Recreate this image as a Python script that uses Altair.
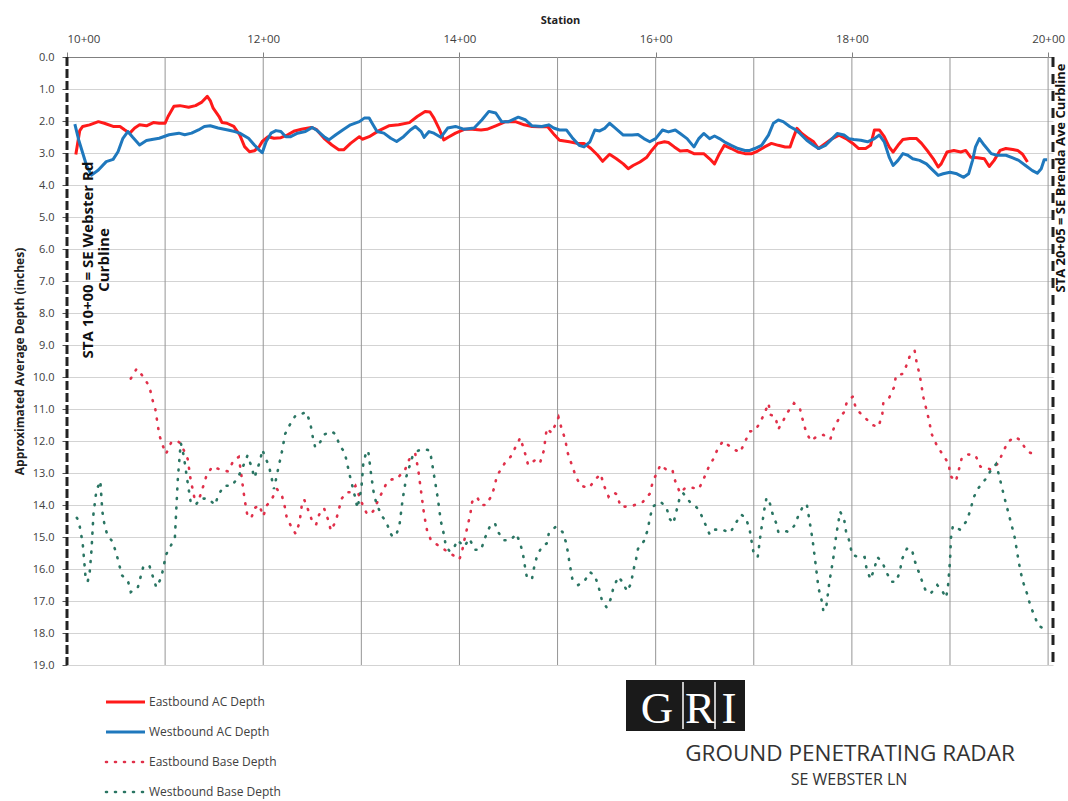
import altair as alt
import pandas as pd

# ---------------- data (station in feet, depth in inches) ----------------
eb_ac_sta = [1009, 1013, 1016, 1023, 1032, 1038, 1047, 1054, 1059, 1064, 1069, 1074, 1081, 1088, 1094, 1100,
             1103, 1109, 1115, 1124, 1131, 1137, 1143, 1146, 1149, 1155, 1158, 1163, 1170, 1176, 1181, 1186,
             1191, 1196, 1199, 1205, 1211, 1218, 1225, 1232, 1239, 1249, 1254, 1262, 1270, 1277, 1282, 1289,
             1298, 1301, 1308, 1318, 1328, 1338, 1349, 1357, 1365, 1370, 1374, 1379, 1384, 1389, 1396, 1405,
             1413, 1422, 1428, 1437, 1447, 1457, 1466, 1474, 1481, 1490, 1497, 1502, 1512, 1521, 1527, 1534,
             1541, 1546, 1553, 1560, 1567, 1572, 1577, 1584, 1591, 1596, 1602, 1609, 1613, 1619, 1625, 1632,
             1639, 1649, 1655, 1660, 1665, 1670, 1677, 1684, 1691, 1698, 1704, 1711, 1718, 1725, 1732, 1737,
             1740, 1744, 1749, 1756, 1761, 1766, 1773, 1780, 1787, 1794, 1801, 1807, 1814, 1819, 1823, 1828,
             1833, 1838, 1842, 1847, 1852, 1859, 1866, 1871, 1878, 1883, 1888, 1891, 1897, 1904, 1911, 1916,
             1921, 1928, 1935, 1940, 1945, 1951, 1957, 1964, 1969, 1974, 1979]
eb_ac_depth = [3.05, 2.3, 2.17, 2.12, 2.02, 2.07, 2.17, 2.17, 2.28, 2.38, 2.22, 2.12, 2.15, 2.05, 2.07, 2.07,
               1.86, 1.54, 1.52, 1.57, 1.52, 1.42, 1.23, 1.36, 1.6, 1.86, 2.05, 2.07, 2.17, 2.43, 2.8, 2.96,
               2.93, 2.8, 2.64, 2.49, 2.54, 2.52, 2.43, 2.31, 2.26, 2.2, 2.26, 2.54, 2.75, 2.9, 2.9, 2.7,
               2.49, 2.57, 2.49, 2.3, 2.15, 2.12, 2.05, 1.86, 1.7, 1.72, 1.91, 2.22, 2.59, 2.5, 2.38, 2.26,
               2.26, 2.28, 2.26, 2.15, 2.02, 2.02, 2.12, 2.17, 2.18, 2.18, 2.44, 2.6, 2.65, 2.7, 2.7, 2.86,
               3.07, 3.26, 3.04, 3.18, 3.34, 3.49, 3.39, 3.28, 3.13, 2.92, 2.7, 2.65, 2.67, 2.81, 2.94, 2.92,
               3.02, 3.02, 3.18, 3.34, 3.02, 2.76, 2.86, 2.97, 3.02, 3.02, 2.94, 2.81, 2.7, 2.76, 2.81, 2.81,
               2.55, 2.23, 2.39, 2.55, 2.65, 2.86, 2.7, 2.55, 2.44, 2.55, 2.7, 2.86, 2.86, 2.76, 2.28, 2.28,
               2.49, 2.81, 2.97, 2.76, 2.58, 2.55, 2.55, 2.7, 2.97, 3.18, 3.44, 3.34, 2.97, 2.92, 2.97, 2.92,
               3.13, 3.15, 3.18, 3.42, 3.23, 2.92, 2.86, 2.89, 2.92, 3.04, 3.28]

wb_ac_sta = [1008, 1012, 1016, 1020, 1025, 1032, 1040, 1047, 1052, 1057, 1062, 1067, 1074, 1081, 1088, 1094,
             1104, 1114, 1120, 1127, 1134, 1140, 1146, 1154, 1164, 1171, 1176, 1185, 1191, 1196, 1199, 1203,
             1208, 1213, 1218, 1223, 1228, 1235, 1243, 1250, 1255, 1262, 1267, 1274, 1281, 1289, 1298, 1303,
             1308, 1311, 1316, 1323, 1330, 1336, 1343, 1350, 1355, 1361, 1364, 1369, 1374, 1381, 1388, 1396,
             1405, 1415, 1423, 1430, 1437, 1443, 1450, 1460, 1467, 1474, 1484, 1491, 1496, 1502, 1509, 1515,
             1522, 1527, 1533, 1538, 1543, 1548, 1553, 1558, 1567, 1576, 1582, 1588, 1594, 1600, 1607, 1613,
             1620, 1625, 1632, 1639, 1644, 1649, 1655, 1660, 1665, 1670, 1677, 1684, 1691, 1696, 1701, 1708,
             1715, 1720, 1725, 1730, 1737, 1742, 1747, 1754, 1761, 1766, 1773, 1780, 1785, 1792, 1797, 1802,
             1809, 1816, 1823, 1828, 1833, 1838, 1842, 1847, 1852, 1857, 1862, 1869, 1876, 1883, 1888, 1893,
             1900, 1907, 1914, 1919, 1923, 1926, 1930, 1935, 1942, 1948, 1957, 1964, 1970, 1977, 1984, 1989,
             1993, 1996, 1999]
wb_ac_depth = [2.1, 2.6, 3.0, 3.4, 3.69, 3.53, 3.27, 3.2, 2.96, 2.54, 2.33, 2.51, 2.75, 2.61, 2.57, 2.54,
               2.43, 2.38, 2.43, 2.38, 2.28, 2.17, 2.15, 2.22, 2.28, 2.33, 2.38, 2.54, 2.75, 2.91, 2.99, 2.64,
               2.38, 2.3, 2.33, 2.49, 2.49, 2.38, 2.33, 2.2, 2.3, 2.49, 2.59, 2.43, 2.28, 2.12, 2.02, 1.91,
               1.91, 2.07, 2.33, 2.38, 2.54, 2.64, 2.49, 2.28, 2.17, 2.33, 2.51, 2.33, 2.38, 2.51, 2.22, 2.17,
               2.26, 2.22, 1.96, 1.7, 1.75, 2.02, 2.02, 1.88, 1.96, 2.15, 2.17, 2.12, 2.22, 2.28, 2.28, 2.52,
               2.76, 2.81, 2.65, 2.28, 2.31, 2.23, 2.07, 2.2, 2.44, 2.44, 2.42, 2.55, 2.65, 2.55, 2.28, 2.34,
               2.28, 2.39, 2.55, 2.81, 2.55, 2.39, 2.55, 2.47, 2.55, 2.65, 2.76, 2.86, 2.92, 2.92, 2.86, 2.76,
               2.44, 2.07, 1.97, 2.02, 2.18, 2.26, 2.39, 2.6, 2.76, 2.86, 2.76, 2.55, 2.39, 2.44, 2.55, 2.58,
               2.6, 2.65, 2.55, 2.44, 2.65, 3.13, 3.39, 3.23, 3.02, 3.07, 3.18, 3.23, 3.34, 3.55, 3.7, 3.65,
               3.6, 3.65, 3.76, 3.65, 3.23, 2.81, 2.55, 2.76, 3.02, 3.07, 3.07, 3.15, 3.23, 3.39, 3.55, 3.63,
               3.49, 3.21, 3.21]

eb_base_sta = [1065, 1071, 1078, 1084, 1087, 1090, 1092, 1094, 1097, 1101, 1106, 1112, 1116, 1123, 1126, 1130,
               1135, 1138, 1142, 1148, 1157, 1164, 1170, 1175, 1177, 1180, 1182, 1184, 1188, 1191, 1196, 1200,
               1204, 1209, 1214, 1219, 1222, 1224, 1229, 1233, 1237, 1240, 1242, 1247, 1251, 1254, 1257, 1262,
               1266, 1269, 1274, 1277, 1280, 1285, 1289, 1294, 1300, 1306, 1312, 1318, 1326, 1331, 1336, 1340,
               1344, 1347, 1350, 1355, 1358, 1361, 1364, 1367, 1371, 1380, 1390, 1400, 1403, 1405, 1408, 1411,
               1413, 1418, 1422, 1427, 1433, 1436, 1438, 1441, 1446, 1452, 1457, 1462, 1467, 1470, 1477, 1482,
               1486, 1489, 1494, 1501, 1504, 1508, 1510, 1514, 1518, 1523, 1532, 1538, 1544, 1547, 1552, 1557,
               1561, 1564, 1570, 1577, 1587, 1594, 1597, 1605, 1611, 1617, 1620, 1625, 1630, 1636, 1644, 1649,
               1654, 1659, 1664, 1669, 1678, 1686, 1691, 1696, 1701, 1706, 1711, 1715, 1717, 1722, 1725, 1729,
               1735, 1741, 1747, 1750, 1753, 1758, 1765, 1771, 1778, 1782, 1788, 1792, 1795, 1801, 1804, 1810,
               1816, 1821, 1827, 1831, 1832, 1838, 1843, 1845, 1852, 1856, 1860, 1864, 1866, 1869, 1871, 1873,
               1876, 1879, 1881, 1886, 1892, 1899, 1900, 1906, 1909, 1912, 1918, 1926, 1931, 1938, 1942, 1949,
               1954, 1959, 1966, 1972, 1978, 1988]
eb_base_depth = [10.05, 9.74, 10.0, 10.3, 10.7, 11.0, 11.4, 11.8, 12.1, 12.4, 12.06, 11.99, 12.08, 12.56, 13.2, 13.8,
                 13.78, 13.5, 13.1, 12.8, 12.9, 12.95, 12.6, 12.5, 12.9, 13.6, 14.0, 14.35, 14.4, 14.1, 14.0, 14.35,
                 14.0, 13.8, 13.5, 13.7, 14.06, 14.4, 14.7, 14.9, 14.55, 13.85, 13.85, 14.25, 14.6, 14.6, 14.3, 14.1,
                 14.45, 14.8, 14.5, 14.15, 13.8, 13.6, 13.6, 13.4, 13.9, 14.3, 14.2, 13.8, 13.3, 13.2, 13.2, 13.05,
                 12.95, 12.7, 12.5, 12.4, 12.9, 13.6, 14.3, 14.8, 15.1, 15.3, 15.5, 15.7, 15.4, 15.1, 14.7, 14.3,
                 13.9, 13.75, 14.0, 14.0, 13.7, 13.4, 13.1, 12.95, 12.7, 12.5, 12.2, 11.9, 12.4, 12.75, 12.6, 12.7,
                 12.3, 11.6, 11.75, 11.26, 11.6, 11.97, 12.34, 12.7, 13.05, 13.39, 13.47, 13.22, 13.03, 13.37, 13.74, 13.6,
                 13.68, 14.05, 14.05, 14.02, 13.9, 13.65, 13.28, 12.74, 12.9, 12.9, 13.26, 13.63, 13.47, 13.45, 13.5, 13.18,
                 12.82, 12.55, 12.19, 12.0, 12.23, 12.36, 12.03, 11.7, 11.68, 11.45, 11.13, 10.82, 11.18, 11.24, 11.63, 11.42,
                 11.08, 10.82, 10.98, 11.35, 11.68, 12.0, 11.84, 11.81, 11.95, 11.56, 11.24, 11.1, 10.77, 10.61, 10.98, 11.18,
                 11.35, 11.5, 11.56, 11.18, 10.82, 10.65, 10.32, 9.95, 9.9, 9.61, 9.26, 9.18, 9.55, 9.92, 10.28, 10.65,
                 11.02, 11.4, 11.76, 12.1, 12.4, 12.72, 13.08, 13.26, 12.9, 12.53, 12.42, 12.45, 12.8, 12.85, 12.9, 12.7,
                 12.35, 12.03, 11.87, 11.98, 12.3, 12.47]

wb_base_sta = [1010, 1012, 1016, 1019, 1021, 1023, 1025, 1027, 1030, 1034, 1036, 1038, 1041, 1046, 1050, 1056,
               1062, 1065, 1072, 1078, 1084, 1091, 1096, 1101, 1106, 1110, 1113, 1115, 1116, 1119, 1122, 1126,
               1131, 1136, 1144, 1151, 1154, 1160, 1168, 1174, 1178, 1184, 1188, 1191, 1197, 1199, 1202, 1206,
               1211, 1215, 1220, 1222, 1227, 1233, 1239, 1244, 1248, 1250, 1253, 1257, 1262, 1266, 1270, 1274,
               1278, 1283, 1288, 1294, 1296, 1300, 1302, 1305, 1307, 1310, 1313, 1316, 1321, 1325, 1330, 1332,
               1336, 1339, 1342, 1346, 1349, 1352, 1358, 1364, 1370, 1374, 1378, 1381, 1384, 1386, 1390, 1395,
               1398, 1405, 1410, 1416, 1422, 1426, 1431, 1436, 1440, 1445, 1452, 1458, 1462, 1465, 1467, 1469,
               1474, 1476, 1479, 1484, 1489, 1491, 1498, 1505, 1509, 1511, 1513, 1515, 1521, 1527, 1533, 1538,
               1542, 1545, 1550, 1554, 1557, 1562, 1566, 1571, 1575, 1577, 1580, 1582, 1588, 1592, 1594, 1597,
               1605, 1611, 1614, 1618, 1621, 1624, 1628, 1636, 1642, 1646, 1651, 1655, 1660, 1668, 1676, 1681,
               1687, 1692, 1696, 1698, 1700, 1704, 1707, 1711, 1713, 1716, 1719, 1723, 1725, 1730, 1735, 1741,
               1745, 1750, 1754, 1756, 1760, 1763, 1766, 1769, 1771, 1774, 1777, 1781, 1784, 1788, 1792, 1794,
               1798, 1800, 1807, 1813, 1815, 1819, 1823, 1826, 1831, 1835, 1840, 1845, 1849, 1851, 1856, 1861,
               1864, 1868, 1872, 1876, 1881, 1887, 1892, 1896, 1898, 1900, 1901, 1903, 1910, 1917, 1921, 1924,
               1929, 1936, 1942, 1947, 1951, 1954, 1957, 1960, 1963, 1966, 1968, 1970, 1972, 1975, 1979, 1982,
               1986, 1990, 1996]
wb_base_depth = [14.4, 14.5, 15.2, 16.28, 16.4, 16.15, 15.4, 14.27, 13.54, 13.25, 14.2, 14.58, 14.93, 15.13, 15.48, 16.2,
                 16.36, 16.72, 16.6, 15.9, 15.9, 16.57, 16.28, 15.55, 15.26, 15.0, 13.16, 12.4, 12.06, 12.46, 13.1, 13.9,
                 14.0, 13.8, 13.8, 14.0, 13.7, 13.4, 13.4, 13.15, 12.9, 12.45, 12.8, 13.15, 12.6, 12.27, 12.5, 12.8,
                 13.5, 12.9, 12.2, 11.8, 11.5, 11.2, 11.15, 11.1, 11.44, 11.8, 12.2, 12.1, 11.8, 11.75, 11.7, 11.8,
                 12.15, 12.35, 13.05, 13.8, 14.1, 13.5, 12.7, 12.35, 12.3, 13.05, 13.7, 14.0, 14.35, 14.5, 14.9, 15.0,
                 14.9, 14.6, 13.85, 13.1, 12.8, 12.5, 12.3, 12.25, 12.3, 13.05, 13.8, 14.5, 14.9, 15.25, 15.45, 15.3,
                 15.1, 15.3, 15.05, 15.4, 15.4, 15.03, 14.67, 14.56, 14.87, 15.1, 15.1, 14.9, 15.2, 15.58, 15.97, 16.3,
                 16.3, 15.97, 15.6, 15.3, 15.2, 14.9, 14.68, 14.84, 15.2, 15.58, 15.95, 16.3, 16.5, 16.4, 16.1, 16.2,
                 16.58, 16.95, 17.2, 16.95, 16.58, 16.24, 16.4, 16.7, 16.44, 16.08, 15.7, 15.37, 15.13, 14.77, 14.42, 14.05,
                 13.9, 14.07, 14.42, 14.58, 14.21, 13.84, 13.63, 13.95, 14.08, 14.28, 14.63, 14.92, 14.77, 14.77, 14.87, 14.6,
                 14.3, 14.4, 14.8, 15.18, 15.53, 15.63, 14.9, 14.1, 13.77, 13.9, 14.26, 14.58, 14.84, 14.79, 14.84, 14.66,
                 14.37, 14.05, 13.97, 14.34, 15.1, 15.84, 16.6, 16.96, 17.32, 17.16, 16.42, 15.68, 14.95, 14.21, 14.42, 14.82,
                 15.18, 15.55, 15.63, 15.63, 16.0, 16.32, 15.98, 15.63, 15.79, 16.08, 16.4, 16.4, 16.08, 15.7, 15.37, 15.37,
                 15.74, 16.08, 16.42, 16.74, 16.74, 16.5, 16.68, 16.9, 16.53, 15.76, 15.02, 14.65, 14.77, 14.5, 14.14, 13.77,
                 13.47, 13.2, 12.9, 12.72, 13.2, 13.58, 13.95, 14.3, 14.65, 15.02, 15.39, 15.76, 16.1, 16.45, 16.81, 17.16,
                 17.45, 17.77, 17.87]

grid_stations = [1100, 1200, 1300, 1400, 1500, 1600, 1700, 1800, 1900, 2000]
label_stations = [1000, 1200, 1400, 1600, 1800, 2000]
depth_ticks = list(range(0, 20))
boundary_left = [1000]
boundary_right = [2005]

legend_labels = ["Eastbound AC Depth", "Westbound AC Depth", "Eastbound Base Depth", "Westbound Base Depth"]

RED = "#ff1a1a"
BLUE = "#1f78bd"
RED_DOT = "#e0304a"
GREEN_DOT = "#2a7563"
FONT = "Open Sans"

# ---------------- shared encodings ----------------
x_scale = alt.Scale(domain=[1000, 2005], nice=False, zero=False)
y_scale = alt.Scale(domain=[0, 19], reverse=True, nice=False, zero=False)

x_enc = alt.X(
    "station:Q", scale=x_scale,
    axis=alt.Axis(orient="top", values=label_stations,
                  labelExpr="format(floor(datum.value/100),'d') + '+00'",
                  title="Station", titleFontWeight="bold", titleFontSize=11, titleFont=FONT,
                  titleColor="#222", titlePadding=8,
                  labelFont=FONT, labelFontSize=11.5, labelColor="#404040", labelPadding=8,
                  grid=False, domainColor="#808080", tickColor="#808080", tickSize=5),
)
y_enc = alt.Y(
    "depth:Q", scale=y_scale,
    axis=alt.Axis(values=depth_ticks, format=".1f", grid=True, gridColor="#d3d3d3",
                  title="Approximated Average Depth (inches)", titleFontWeight="bold",
                  titleFontSize=12, titleFont=FONT, titleColor="#222", titlePadding=6,
                  labelFont=FONT, labelFontSize=11, labelColor="#404040", labelPadding=8,
                  domain=False, tickColor="#555", tickSize=5),
)


def df(sta, dep):
    return pd.DataFrame({"station": sta, "depth": dep})


vgrid = alt.Chart(pd.DataFrame({"station": grid_stations})).mark_rule(
    color="#959595", strokeWidth=1).encode(x=x_enc)

eb_base = alt.Chart(df(eb_base_sta, eb_base_depth)).mark_line(
    color=RED_DOT, strokeWidth=2.6, strokeDash=[1, 8.5], strokeCap="round").encode(x=x_enc, y=y_enc)
wb_base = alt.Chart(df(wb_base_sta, wb_base_depth)).mark_line(
    color=GREEN_DOT, strokeWidth=2.6, strokeDash=[1, 8.5], strokeCap="round").encode(x=x_enc, y=y_enc)
eb_ac = alt.Chart(df(eb_ac_sta, eb_ac_depth)).mark_line(
    color=RED, strokeWidth=3, strokeJoin="round").encode(x=x_enc, y=y_enc)
wb_ac = alt.Chart(df(wb_ac_sta, wb_ac_depth)).mark_line(
    color=BLUE, strokeWidth=3, strokeJoin="round").encode(x=x_enc, y=y_enc)

left_bound = alt.Chart(pd.DataFrame({"station": boundary_left})).mark_rule(
    color="#222", strokeWidth=3, strokeDash=[9, 3]).encode(x=x_enc)
right_bound = alt.Chart(pd.DataFrame({"station": boundary_right})).mark_rule(
    color="#222", strokeWidth=3, strokeDash=[10, 7]).encode(x=x_enc)

# annotations
left_note = alt.Chart(pd.DataFrame({"t": [0]})).mark_text(
    text=["STA 10+00 = SE Webster Rd", "Curbline"], angle=270, font=FONT, fontWeight="bold",
    fontSize=15, lineHeight=16, align="center", baseline="middle", color="#111"
).encode(x=alt.value(21), y=alt.value(203))
right_note = alt.Chart(pd.DataFrame({"t": [0]})).mark_text(
    text="STA 20+05 = SE Brenda Ave Curbline", angle=270, font=FONT, fontWeight="bold",
    fontSize=13, align="center", baseline="middle", color="#111"
).encode(x=alt.value(994), y=alt.value(121))

# legend (manual)
leg_layers = []
leg_y = [645, 675, 705, 735]
leg_styles = [
    dict(color=RED, strokeWidth=3),
    dict(color=BLUE, strokeWidth=3),
    dict(color=RED_DOT, strokeWidth=2.6, strokeDash=[1, 8], strokeCap="round"),
    dict(color=GREEN_DOT, strokeWidth=2.6, strokeDash=[1, 8], strokeCap="round"),
]
for lab, yy, st in zip(legend_labels, leg_y, leg_styles):
    leg_layers.append(alt.Chart(pd.DataFrame({"t": [0]})).mark_rule(**st).encode(
        x=alt.value(39), x2=alt.value(78), y=alt.value(yy)))
    leg_layers.append(alt.Chart(pd.DataFrame({"t": [0]})).mark_text(
        text=lab, font=FONT, fontSize=12, color="#404040", align="left", baseline="middle"
    ).encode(x=alt.value(82), y=alt.value(yy)))

# GRI logo block and titles
logo_box = alt.Chart(pd.DataFrame({"t": [0]})).mark_rect(color="#1a1a1a").encode(
    x=alt.value(559), x2=alt.value(678), y=alt.value(623), y2=alt.value(674))
logo_div = alt.Chart(pd.DataFrame({"xx": [616, 648]})).mark_rule(color="white", strokeWidth=1.5).encode(
    x=alt.X("xx:Q", scale=None), y=alt.value(625), y2=alt.value(672))
logo_letters = []
for ch, xx in zip(["G", "R", "I"], [590, 633, 662]):
    logo_letters.append(alt.Chart(pd.DataFrame({"t": [0]})).mark_text(
        text=ch, font="Liberation Serif", fontSize=45, color="white", align="center",
        baseline="alphabetic").encode(x=alt.value(xx), y=alt.value(666)))
title1 = alt.Chart(pd.DataFrame({"t": [0]})).mark_text(
    text="GROUND PENETRATING RADAR", font=FONT, fontSize=22.5, color="#333", align="center",
    baseline="alphabetic").encode(x=alt.value(783), y=alt.value(704))
title2 = alt.Chart(pd.DataFrame({"t": [0]})).mark_text(
    text="SE WEBSTER LN", font=FONT, fontSize=16, color="#333", align="center",
    baseline="alphabetic").encode(x=alt.value(782), y=alt.value(728))

chart = alt.layer(
    vgrid, eb_base, wb_base, eb_ac, wb_ac, left_bound, right_bound, left_note, right_note,
    *leg_layers, logo_box, logo_div, *logo_letters, title1, title2
).properties(
    width=986, height=608,
    padding={"left": 67, "top": 57, "right": 15, "bottom": 136},
    autosize=alt.AutoSizeParams(type="none"),
    background="white",
).configure_view(strokeWidth=0)

chart.save("out.html", embed_options={"renderer": "svg", "actions": False})
